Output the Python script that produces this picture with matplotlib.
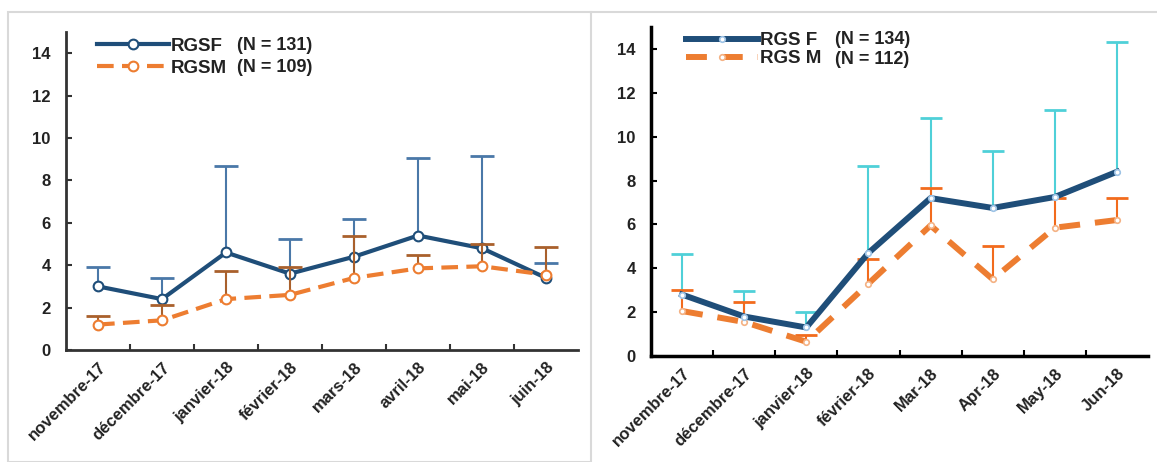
import numpy as np
import matplotlib
matplotlib.use("Agg")
import matplotlib.pyplot as plt
from matplotlib.lines import Line2D
from matplotlib.patches import Rectangle

plt.rcParams['font.family'] = ['Liberation Sans', 'DejaVu Sans']

# ---------------- data ----------------
left_labels = ["novembre-17", "décembre-17", "janvier-18", "février-18",
               "mars-18", "avril-18", "mai-18", "juin-18"]
left_f = [3.0, 2.4, 4.6, 3.6, 4.4, 5.4, 4.8, 3.4]
left_f_top = [3.9, 3.4, 8.7, 5.25, 6.2, 9.05, 9.15, 4.1]
left_m = [1.2, 1.4, 2.4, 2.6, 3.4, 3.85, 3.95, 3.55]
left_m_top = [1.6, 2.1, 3.75, 3.9, 5.4, 4.5, 5.0, 4.85]
left_names = ["RGSF", "RGSM"]
left_n = ["(N = 131)", "(N = 109)"]

right_labels = ["novembre-17", "décembre-17", "janvier-18", "février-18",
                "Mar-18", "Apr-18", "May-18", "Jun-18"]
right_f = [2.8, 1.8, 1.3, 4.7, 7.2, 6.75, 7.25, 8.4]
right_f_top = [4.65, 2.95, 2.0, 8.65, 10.85, 9.35, 11.2, 14.3]
right_m = [2.05, 1.55, 0.65, 3.3, 5.95, 3.5, 5.85, 6.2]
right_m_top = [3.0, 2.45, 0.95, 4.4, 7.65, 5.0, 7.2, 7.2]
right_names = ["RGS F", "RGS M"]
right_n = ["(N = 134)", "(N = 112)"]

yticks = [0, 2, 4, 6, 8, 10, 12, 14]

W, H = 1157, 462
fig = plt.figure(figsize=(W / 100, H / 100), dpi=100)

# panel borders
fig.add_artist(Rectangle((8 / W, 0), (591 - 8) / W, (H - 12) / H,
                         transform=fig.transFigure, fill=False,
                         edgecolor='#d9d9d9', lw=1.5))
fig.add_artist(Line2D([591 / W, 1], [(H - 12) / H, (H - 12) / H],
                      transform=fig.transFigure, color='#d9d9d9', lw=1.5))


def setup(ax, labels, axcolor, axlw):
    n = len(labels)
    x = np.arange(n)
    ax.set_xlim(-0.5, n - 0.5)
    ax.set_ylim(0, 15)
    ax.set_yticks(yticks)
    ax.set_xticks(x)
    ax.set_xticklabels(labels, rotation=45, ha='right', rotation_mode='anchor',
                       fontsize=12, fontweight='bold', color='#222222')
    ax.set_xticks(np.arange(0.5, n - 0.5, 1), minor=True)
    ax.tick_params(axis='x', which='major', length=0, pad=7)
    ax.tick_params(axis='x', which='minor', length=4, direction='in',
                   width=1.5, color=axcolor)
    ax.tick_params(axis='y', length=4, direction='in', width=1.5,
                   color=axcolor, labelsize=12, pad=11)
    for lab in ax.get_yticklabels():
        lab.set_fontweight('bold')
        lab.set_color('#222222')
    for s in ['top', 'right']:
        ax.spines[s].set_visible(False)
    for s in ['left', 'bottom']:
        ax.spines[s].set_color(axcolor)
        ax.spines[s].set_linewidth(axlw)
    return x


def upper_err(ax, x, mean, top, color, capsize, z):
    mean = np.asarray(mean, float)
    top = np.asarray(top, float)
    cont = ax.errorbar(x, mean, yerr=[np.zeros_like(mean), top - mean],
                       fmt='none', ecolor=color, elinewidth=1.5,
                       capsize=capsize, capthick=2, zorder=z)
    # hide the caps at the mean (lower side), keep only upper caps
    for cl in cont[1]:
        if np.allclose(np.asarray(cl.get_ydata(), float), mean):
            cl.set_visible(False)
    return cont


LEG_SIZE = 13.5
N_SIZE = 13

# ---------------- left panel ----------------
axL = fig.add_axes([66 / W, 1 - 350 / H, (578 - 66) / W, 318 / H])
x = setup(axL, left_labels, '#333333', 2.0)
upper_err(axL, x, left_f, left_f_top, '#4a78a8', 8.5, 2)
upper_err(axL, x, left_m, left_m_top, '#a9602c', 8.5, 4)
lF, = axL.plot(x, left_f, color='#1f4e79', lw=3, marker='o', ms=7,
               mfc='white', mec='#1f4e79', mew=1.5, zorder=3)
lM, = axL.plot(x, left_m, color='#ed7d31', lw=3, ls=(0, (4, 2)), marker='o',
               ms=7, mfc='white', mec='#ed7d31', mew=1.5, zorder=5)
leg = axL.legend([lF, lM], left_names, loc='upper left',
                 bbox_to_anchor=(0.027, 1.035), frameon=False,
                 handlelength=3.84, handletextpad=0.1, labelspacing=0.26,
                 prop={'weight': 'bold', 'size': LEG_SIZE})
for t in leg.get_texts():
    t.set_color('#222222')
axL.text(237 / W, 1 - 45 / H, left_n[0], transform=fig.transFigure,
         fontsize=N_SIZE, fontweight='bold', color='#222222', va='center')
axL.text(237 / W, 1 - 67 / H, left_n[1], transform=fig.transFigure,
         fontsize=N_SIZE, fontweight='bold', color='#222222', va='center')

# ---------------- right panel ----------------
axR = fig.add_axes([651 / W, 1 - 356 / H, (1148 - 651) / W, 329 / H])
x = setup(axR, right_labels, '#000000', 2.5)
upper_err(axR, x, right_f, right_f_top, '#4fd0d8', 8, 2)
upper_err(axR, x, right_m, right_m_top, '#f26b1d', 8, 2)
lM, = axR.plot(x, right_m, color='#ed7d31', lw=4.3, ls=(0, (3.5, 2.5)),
               marker='o', ms=4, mfc='white', mec='#f4b183', mew=1.2, zorder=3)
lF, = axR.plot(x, right_f, color='#1f4e79', lw=4.3, marker='o', ms=4,
               mfc='white', mec='#9dc3e6', mew=1.2, zorder=4)
leg = axR.legend([lF, lM], right_names, loc='upper left',
                 bbox_to_anchor=(0.036, 1.035), frameon=False,
                 handlelength=3.84, handletextpad=0.1, labelspacing=0.04,
                 prop={'weight': 'bold', 'size': LEG_SIZE})
for t in leg.get_texts():
    t.set_color('#222222')
axR.text(835 / W, 1 - 40 / H, right_n[0], transform=fig.transFigure,
         fontsize=N_SIZE, fontweight='bold', color='#222222', va='center')
axR.text(835 / W, 1 - 59 / H, right_n[1], transform=fig.transFigure,
         fontsize=N_SIZE, fontweight='bold', color='#222222', va='center')

fig.savefig("out.png", dpi=100)
